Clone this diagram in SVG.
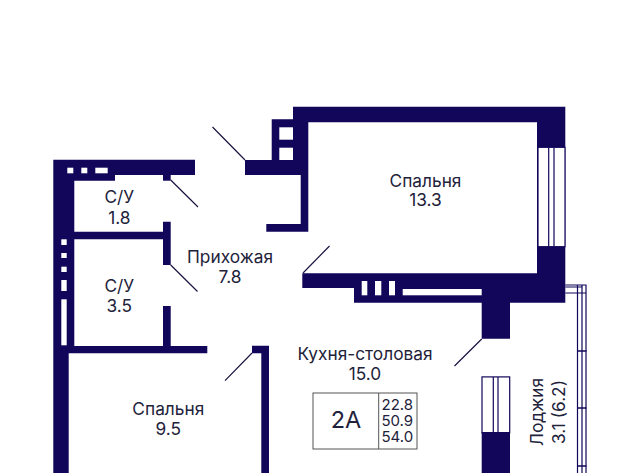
<svg xmlns="http://www.w3.org/2000/svg" width="640" height="473" viewBox="0 0 640 473">
<style>
.w{fill:#11065a}
.o{fill:#fff}
.d{stroke:#1a1440;stroke-width:1.2;fill:none}
.f{stroke:#11065a;stroke-width:1.2;fill:#fff}
.t{font-family:"Inter","Liberation Sans",sans-serif;font-size:17.3px;fill:#22223a;text-anchor:middle}
.g{stroke:#555;stroke-width:1;fill:none}
</style>
<rect width="640" height="473" fill="#fff"/>
<g id="walls">
<path class="w" d="M53.3 159.7H195V175H115V180.7H74.3V231.7H163V221.7H170.7V265H163V239.3H74.3V346H163V306H170.7V346H207.3V353.3H68.7V473H53.3Z"/>
<rect class="w" x="163" y="175" width="7.7" height="5.7"/>
<path class="w" d="M293 106.7H565.3V302.7H510V338.7H481.7V302.7H354V288H302.3V273.3H537V122.3H308.3V231.7H266.3V224H300.7V175H245V160H271.7V119.3H293Z"/>
<path class="w" d="M252 345.7H269V473H261.3V353.3H252Z"/>
</g>
<g id="openings">
<rect class="o" x="67.3" y="167.7" width="6" height="5.6"/><rect class="o" x="81.3" y="167.7" width="6" height="5.6"/><rect class="o" x="95.3" y="167.7" width="12.4" height="5.6"/>
<rect class="o" x="61.3" y="239.3" width="5.4" height="5.7"/><rect class="o" x="61.3" y="253" width="5.4" height="5"/><rect class="o" x="61.3" y="266.7" width="5.4" height="5.3"/><rect class="o" x="61.3" y="280" width="5.4" height="11"/><rect class="o" x="61.3" y="299.3" width="5.4" height="46"/>
<rect class="o" x="279.3" y="127.3" width="13.7" height="12.4"/><rect class="o" x="279.3" y="147.7" width="13.7" height="12.3"/>
<rect class="o" x="361.7" y="281" width="5.6" height="14.3"/><rect class="o" x="375" y="281" width="6.3" height="14.3"/><rect class="o" x="389" y="281" width="6" height="14.3"/><rect class="o" x="402.7" y="289" width="79" height="6.3"/>
</g>
<g id="windows">
<rect class="f" x="538" y="147.3" width="27" height="99.4"/>
<path d="M548.7 147.3V246.7M554 147.3V246.7" stroke="#11065a" stroke-width="1.2"/>
<rect class="f" x="482" y="376.9" width="27.7" height="56"/>
<path d="M493.3 377V432M498 377V432" stroke="#11065a" stroke-width="1.2"/>
<rect class="w" x="481.7" y="432" width="28.3" height="41"/>
<path d="M565.3 285H586V473M577.5 473V285M565.3 293H586M582 285V473M565.3 287H582" stroke="#11065a" stroke-width="1.2" fill="none"/>
<path d="M577 351H586.5M577 408H586.5M577 466H586.5" stroke="#11065a" stroke-width="1.6"/>
</g>
<g id="connectors">
<path class="d" d="M170.7 180L198 207M170.7 265L197.5 291.5M245 160L212.5 127M303 273L329.5 246M481.7 339L454.5 366M252 353L225 380.7"/>
</g>
<g id="room-su1"><text class="t" x="119.3" y="202.7">С/У</text><text class="t" x="119.3" y="223.5">1.8</text></g>
<g id="room-su2"><text class="t" x="119.3" y="291.5">С/У</text><text class="t" x="119.3" y="312">3.5</text></g>
<g id="room-hall"><text class="t" x="230" y="262.7">Прихожая</text><text class="t" x="230" y="283">7.8</text></g>
<g id="room-bed1"><text class="t" x="425.5" y="187">Спальня</text><text class="t" x="425.5" y="206">13.3</text></g>
<g id="room-bed2"><text class="t" x="168.3" y="415">Спальня</text><text class="t" x="168.3" y="435">9.5</text></g>
<g id="room-kitchen"><text class="t" x="365" y="360">Кухня-столовая</text><text class="t" x="365" y="380">15.0</text></g>
<g id="room-loggia"><text class="t" transform="translate(543 412) rotate(-90)">Лоджия</text><text class="t" transform="translate(565 412) rotate(-90)">3.1 (6.2)</text></g>
<g id="legend">
<rect class="g" x="313" y="393" width="104" height="56"/><path class="g" d="M378.7 393V449"/>
<text class="t" x="346" y="428.3" style="font-size:23.5px">2А</text>
<text class="t" x="397.3" y="410" style="font-size:15px">22.8</text>
<text class="t" x="397.3" y="426" style="font-size:15px">50.9</text>
<text class="t" x="397.3" y="442" style="font-size:15px">54.0</text>
</g>
</svg>
